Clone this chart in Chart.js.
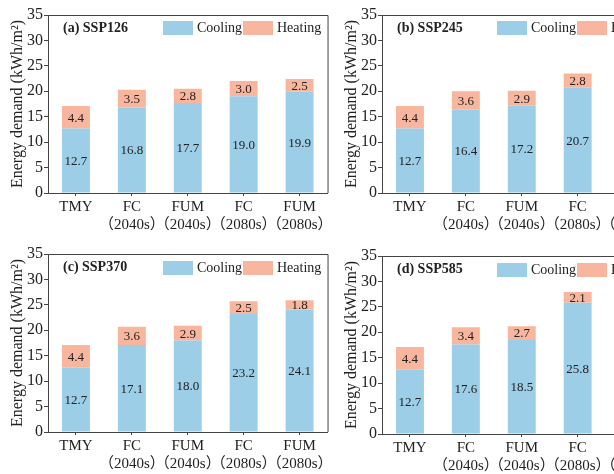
<!DOCTYPE html>
<html>
<head>
<meta charset="utf-8">
<script src="https://cdn.jsdelivr.net/npm/chart.js@4"></script>
<style>
  html, body { margin: 0; padding: 0; background: #fff; }
  body { width: 614px; height: 474px; overflow: hidden; position: relative; }
  .panel { position: absolute; width: 335px; height: 238px; }
</style>
</head>
<body>
<div class="panel" style="left:0;top:0"><canvas id="c1"></canvas></div>
<div class="panel" style="left:334px;top:0"><canvas id="c2"></canvas></div>
<div class="panel" style="left:0;top:239px"><canvas id="c3"></canvas></div>
<div class="panel" style="left:334px;top:241px"><canvas id="c4"></canvas></div>
<script>
const categories = [
    ["TMY", ""],
    ["FC", "（2040s）"],
    ["FUM", "（2040s）"],
    ["FC", "（2080s）"],
    ["FUM", "（2080s）"]
];
const yTicks = [0, 5, 10, 15, 20, 25, 30, 35];

// cooling / heating per scenario (5th bar of the right panels is cut off in the picture)
const cooling126 = [12.7, 16.8, 17.7, 19.0, 19.9];
const heating126 = [4.4, 3.5, 2.8, 3.0, 2.5];
const cooling245 = [12.7, 16.4, 17.2, 20.7, null];
const heating245 = [4.4, 3.6, 2.9, 2.8, null];
const cooling370 = [12.7, 17.1, 18.0, 23.2, 24.1];
const heating370 = [4.4, 3.6, 2.9, 2.5, 1.8];
const cooling585 = [12.7, 17.6, 18.5, 25.8, null];
const heating585 = [4.4, 3.4, 2.7, 2.1, null];

const COOL = "#9ccfe7";
const HEAT = "#f9b69f";
const FRAME = "#444";
const SERIF = "'Liberation Serif', 'Times New Roman', 'Noto Sans CJK SC', serif";

const panelPlugin = {
    id: "panel",
    afterDraw(chart, args, opts) {
        const ctx = chart.ctx;
        const a = chart.chartArea;
        ctx.save();
        // frame top + right
        ctx.strokeStyle = FRAME;
        ctx.lineWidth = 1;
        ctx.beginPath();
        ctx.moveTo(a.left, a.top + 0.5);
        ctx.lineTo(a.right + 0.5, a.top + 0.5);
        ctx.lineTo(a.right + 0.5, a.bottom);
        ctx.stroke();

        // value labels in the middle of each segment
        ctx.fillStyle = "#222";
        ctx.font = "13px " + SERIF;
        ctx.textAlign = "center";
        ctx.textBaseline = "middle";
        chart.data.datasets.forEach((ds, i) => {
            chart.getDatasetMeta(i).data.forEach((el, j) => {
                const v = ds.data[j];
                if (v == null) return;
                ctx.fillText(v.toFixed(1), el.x, (el.y + el.base) / 2 + 1);
            });
        });

        // panel title
        ctx.textAlign = "left";
        ctx.font = "bold 14px " + SERIF;
        ctx.fillText(opts.title, a.left + 15, a.top + 13);

        // legend
        const ly = a.top + opts.legendDy;
        ctx.font = "14px " + SERIF;
        ctx.fillStyle = COOL;
        ctx.fillRect(a.left + 115, ly, 30, 14);
        ctx.fillStyle = HEAT;
        ctx.fillRect(a.left + 195, ly, 30, 14);
        ctx.fillStyle = "#222";
        ctx.fillText("Cooling", a.left + 149, ly + 7);
        ctx.fillText("Heating", a.left + 229, ly + 7);
        ctx.restore();
    }
};

function makeChart(id, title, cooling, heating, legendDy) {
    new Chart(document.getElementById(id), {
        type: "bar",
        data: {
            labels: categories,
            datasets: [
                { label: "Cooling", data: cooling, backgroundColor: COOL },
                { label: "Heating", data: heating, backgroundColor: HEAT }
            ]
        },
        options: {
            responsive: true,
            maintainAspectRatio: false,
            animation: false,
            events: [],
            barPercentage: 0.5,
            categoryPercentage: 1,
            layout: { padding: { top: 15, right: 5, left: 0, bottom: 0 } },
            plugins: {
                legend: { display: false },
                tooltip: { enabled: false },
                panel: { title: title, legendDy: legendDy }
            },
            scales: {
                x: {
                    stacked: true,
                    afterFit: s => { s.height = 45; },
                    grid: { offset: false, drawOnChartArea: false, tickLength: 3, color: FRAME },
                    border: { color: FRAME },
                    ticks: {
                        autoSkip: false, maxRotation: 0, padding: 2, color: "#222",
                        font: { family: SERIF, size: 15, lineHeight: 1.2 }
                    }
                },
                y: {
                    stacked: true,
                    min: 0, max: 35,
                    afterBuildTicks: s => { s.ticks = yTicks.map(v => ({ value: v })); },
                    afterFit: s => { s.width = 48; },
                    grid: { drawOnChartArea: false, tickLength: 4, color: FRAME },
                    border: { color: FRAME },
                    ticks: { padding: 1, color: "#222", font: { family: SERIF, size: 16 } },
                    title: {
                        display: true,
                        text: "Energy demand (kWh/m²)",
                        color: "#222",
                        padding: { top: 8, bottom: 0 },
                        font: { family: SERIF, size: 16 }
                    }
                }
            }
        },
        plugins: [panelPlugin]
    });
}

makeChart("c1", "(a) SSP126", cooling126, heating126, 6);
makeChart("c2", "(b) SSP245", cooling245, heating245, 6);
makeChart("c3", "(c) SSP370", cooling370, heating370, 7);
makeChart("c4", "(d) SSP585", cooling585, heating585, 7);
</script>
</body>
</html>
